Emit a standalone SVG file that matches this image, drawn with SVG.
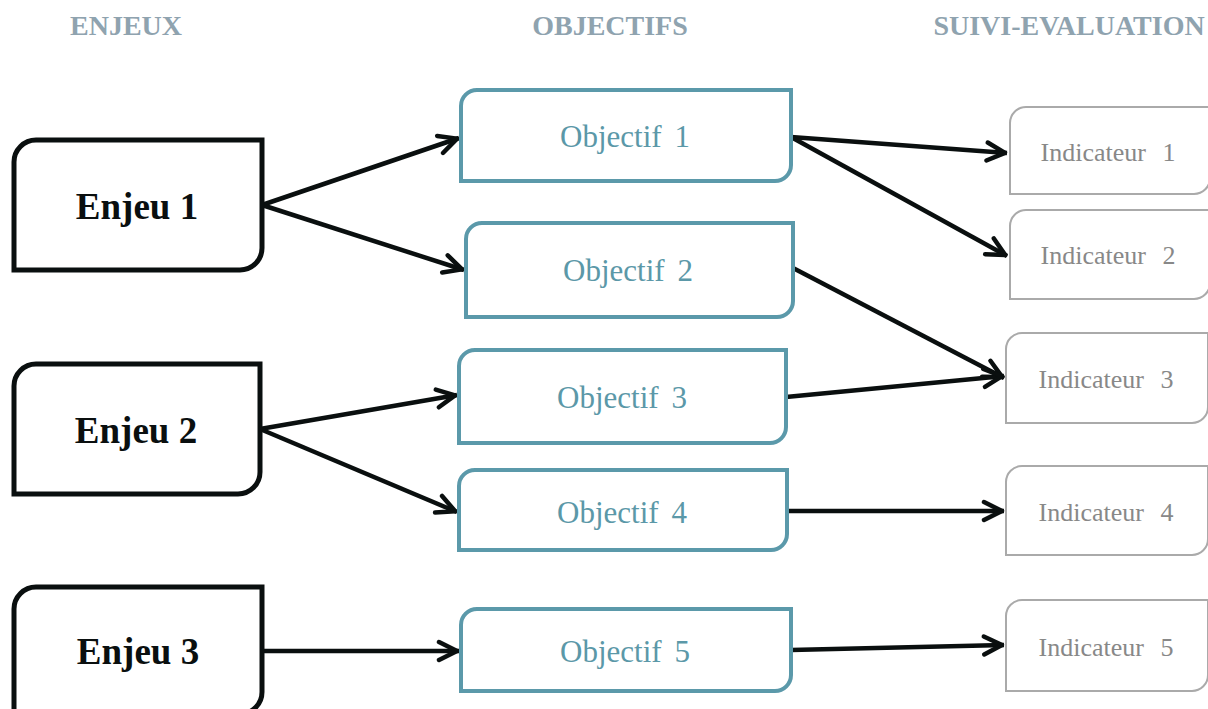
<svg xmlns="http://www.w3.org/2000/svg" width="1208" height="709" viewBox="0 0 1208 709">
<style>
.title{font-family:"Liberation Serif",serif;font-weight:bold;font-size:28px;fill:#8fa3af;text-anchor:middle}
.enj{fill:#fff;stroke:#0a0f0f;stroke-width:5}
.enjt{font-family:"Liberation Serif",serif;font-weight:bold;font-size:37px;fill:#0a0f0f;text-anchor:middle}
.obj{fill:#fff;stroke:#5b99aa;stroke-width:4}
.objt{font-family:"Liberation Serif",serif;font-size:31px;fill:#5b98a8;text-anchor:middle;word-spacing:5px}
.ind{fill:#fff;stroke:#aaaaaa;stroke-width:2}
.indt{font-family:"Liberation Serif",serif;font-size:26px;fill:#888;text-anchor:middle;word-spacing:10px}
.con{stroke:#0a0f0f;stroke-width:4.5;fill:none;marker-end:url(#ah)}
</style>
<defs>
<marker id="ah" markerUnits="userSpaceOnUse" viewBox="-22 -12 26 24" refX="2" refY="0" markerWidth="26" markerHeight="24" orient="auto">
<path d="M-18,-9 L0,0 L-18,9" fill="none" stroke="#0a0f0f" stroke-width="4.5" stroke-linecap="round" stroke-linejoin="round"/>
</marker>
</defs>
<g id="titles">
<text class="title" x="126" y="35">ENJEUX</text>
<text class="title" x="610" y="35">OBJECTIFS</text>
<text class="title" x="1069" y="35">SUIVI-EVALUATION</text>
</g>
<g id="connectors">
<line class="con" x1="262" y1="205" x2="459" y2="138"/>
<line class="con" x1="262" y1="205" x2="464" y2="270"/>
<line class="con" x1="260" y1="429" x2="457" y2="395"/>
<line class="con" x1="260" y1="429" x2="457" y2="512"/>
<line class="con" x1="262" y1="651" x2="459" y2="651"/>
<line class="con" x1="791" y1="137" x2="1007" y2="153"/>
<line class="con" x1="791" y1="137" x2="1007" y2="256"/>
<line class="con" x1="793" y1="268" x2="1004" y2="378"/>
<line class="con" x1="786" y1="397" x2="1004" y2="376"/>
<line class="con" x1="787" y1="511" x2="1004" y2="511"/>
<line class="con" x1="791" y1="650" x2="1004" y2="645"/>
</g>
<g id="enjeu1">
<path class="enj" d="M14,270 L14,162 A22,22 0 0 1 36,140 L262,140 L262,248 A22,22 0 0 1 240,270 Z"/>
<text class="enjt" x="137" y="219">Enjeu 1</text>
</g>
<g id="enjeu2">
<path class="enj" d="M14,494 L14,386 A22,22 0 0 1 36,364 L260,364 L260,472 A22,22 0 0 1 238,494 Z"/>
<text class="enjt" x="136" y="443">Enjeu 2</text>
</g>
<g id="enjeu3">
<path class="enj" d="M14,714 L14,609 A22,22 0 0 1 36,587 L262,587 L262,692 A22,22 0 0 1 240,714 Z"/>
<text class="enjt" x="138" y="664">Enjeu 3</text>
</g>
<g id="objectif1">
<path class="obj" d="M461,181 L461,106 A16,16 0 0 1 477,90 L791,90 L791,165 A16,16 0 0 1 775,181 Z"/>
<text class="objt" x="625" y="147">Objectif 1</text>
</g>
<g id="objectif2">
<path class="obj" d="M466,317 L466,239 A16,16 0 0 1 482,223 L793,223 L793,301 A16,16 0 0 1 777,317 Z"/>
<text class="objt" x="628" y="281">Objectif 2</text>
</g>
<g id="objectif3">
<path class="obj" d="M459,443 L459,366 A16,16 0 0 1 475,350 L786,350 L786,427 A16,16 0 0 1 770,443 Z"/>
<text class="objt" x="622" y="408">Objectif 3</text>
</g>
<g id="objectif4">
<path class="obj" d="M459,550 L459,486 A16,16 0 0 1 475,470 L787,470 L787,534 A16,16 0 0 1 771,550 Z"/>
<text class="objt" x="622" y="523">Objectif 4</text>
</g>
<g id="objectif5">
<path class="obj" d="M461,691 L461,625 A16,16 0 0 1 477,609 L791,609 L791,675 A16,16 0 0 1 775,691 Z"/>
<text class="objt" x="625" y="662">Objectif 5</text>
</g>
<g id="indicateur1">
<path class="ind" d="M1010,194 L1010,123 A16,16 0 0 1 1026,107 L1210,107 L1210,178 A16,16 0 0 1 1194,194 Z"/>
<text class="indt" x="1108" y="161">Indicateur 1</text>
</g>
<g id="indicateur2">
<path class="ind" d="M1010,299 L1010,226 A16,16 0 0 1 1026,210 L1210,210 L1210,283 A16,16 0 0 1 1194,299 Z"/>
<text class="indt" x="1108" y="264">Indicateur 2</text>
</g>
<g id="indicateur3">
<path class="ind" d="M1006,423 L1006,349 A16,16 0 0 1 1022,333 L1208,333 L1208,407 A16,16 0 0 1 1192,423 Z"/>
<text class="indt" x="1106" y="388">Indicateur 3</text>
</g>
<g id="indicateur4">
<path class="ind" d="M1006,555 L1006,482 A16,16 0 0 1 1022,466 L1208,466 L1208,539 A16,16 0 0 1 1192,555 Z"/>
<text class="indt" x="1106" y="521">Indicateur 4</text>
</g>
<g id="indicateur5">
<path class="ind" d="M1006,691 L1006,616 A16,16 0 0 1 1022,600 L1208,600 L1208,675 A16,16 0 0 1 1192,691 Z"/>
<text class="indt" x="1106" y="656">Indicateur 5</text>
</g>
</svg>
